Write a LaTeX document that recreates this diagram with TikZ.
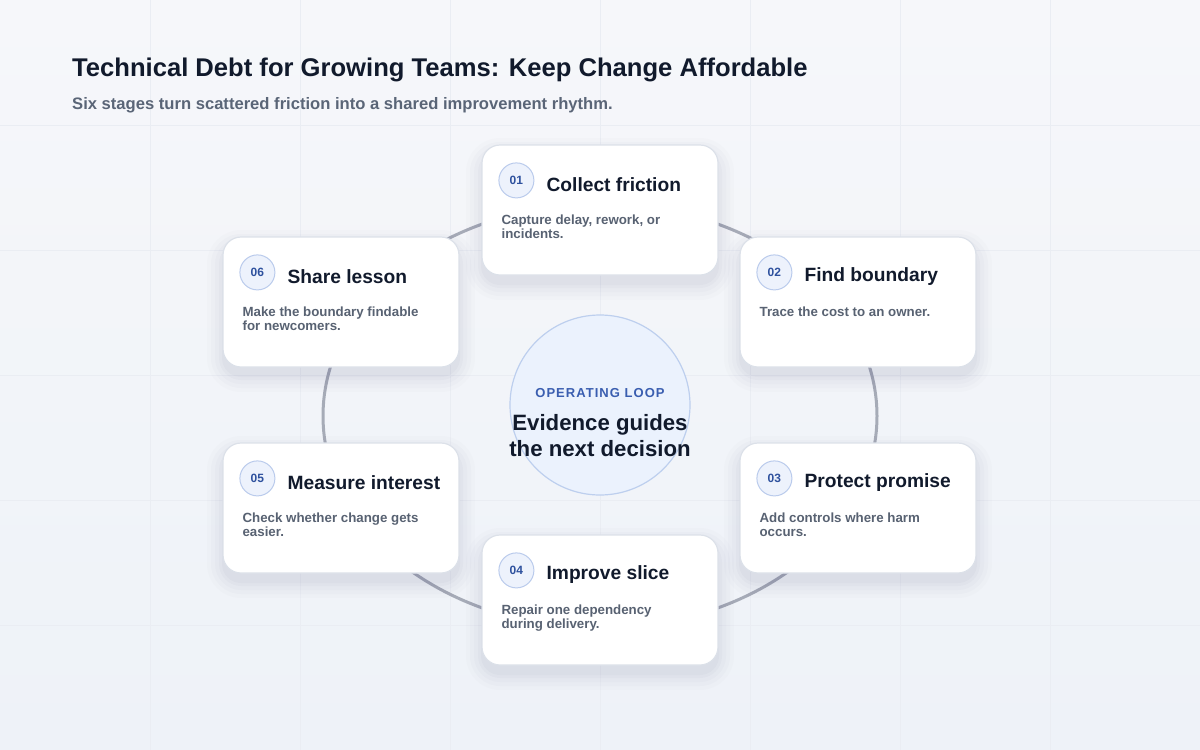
\documentclass[tikz,border=0pt]{standalone}
\usepackage{fontspec}
\setmainfont{Liberation Sans}
\usetikzlibrary{calc}
\definecolor{bgtop}{HTML}{F6F7FA}
\definecolor{bgbot}{HTML}{EEF2F8}
\definecolor{gridc}{HTML}{EAEDF3}
\definecolor{ringc}{HTML}{A6ABB7}
\definecolor{cardborder}{HTML}{DCE1E9}
\definecolor{numfill}{HTML}{EDF2FC}
\definecolor{numborder}{HTML}{BACBEC}
\definecolor{numtext}{HTML}{2E519E}
\definecolor{titlec}{HTML}{111A2C}
\definecolor{descc}{HTML}{586272}
\definecolor{subc}{HTML}{5A6577}
\definecolor{hubfill}{HTML}{EBF2FD}
\definecolor{hubborder}{HTML}{BDCFEE}
\definecolor{hubtext}{HTML}{3A5EB0}
\tikzset{
  cardbox/.style={draw=cardborder, line width=1.2pt, fill=white, rounded corners=18pt,
    minimum width=236pt, minimum height=130pt, inner sep=0pt},
  numbadge/.style={circle, draw=numborder, line width=1pt, fill=numfill, minimum size=35pt,
    inner sep=0pt, text=numtext, font=\fontsize{12}{14}\selectfont\bfseries},
  cardtitle/.style={anchor=west, inner sep=0pt, text=titlec, font=\fontsize{19.2}{22}\selectfont\bfseries},
  carddesc/.style={anchor=north west, inner sep=0pt, align=left, text=descc,
    font=\fontsize{13.3}{13.8}\selectfont\bfseries},
  ringline/.style={draw=ringc, line width=3pt},
}
\newcommand{\stagecard}[6]{%
  \foreach \k/\op in {16/0.012,12/0.014,8/0.016,4/0.018,1/0.02}{
    \fill[black!70!blue, opacity=\op, rounded corners=18pt+\k pt]
      ($(#2,#3)+(-118-\k,-65-\k+9)$) rectangle ($(#2,#3)+(118+\k,65+\k+9)$);
  }
  \node[cardbox] (#1) at (#2,#3) {};
  \node[numbadge] (#1num) at ($(#1.north west)+(35,36)$) {#4};
  \node[cardtitle] (#1title) at ($(#1.north west)+(65,40.5)$) {#5};
  \node[carddesc] (#1desc) at ($(#1.north west)+(20,70)$) {#6};
}
\begin{document}
\begin{tikzpicture}[x=1pt,y=-1pt]
  \useasboundingbox (0,0) rectangle (1200,750);
  \shade[top color=bgtop, bottom color=bgbot] (0,0) rectangle (1200,750);
  \foreach \gx in {150,300,...,1050} \draw[gridc, line width=0.8pt] (\gx,0) -- (\gx,750);
  \foreach \gy in {125,250,...,625} \draw[gridc, line width=0.8pt] (0,\gy) -- (1200,\gy);
  % title
  \node[anchor=west, inner sep=0pt, text=titlec, font=\fontsize{25.6}{30}\selectfont\bfseries] (title) at (72,70)
    {Technical Debt for Growing Teams: Keep Change Affordable};
  \node[anchor=west, inner sep=0pt, text=subc, font=\fontsize{16.6}{19}\selectfont\bfseries] (subtitle) at (72,105)
    {Six stages turn scattered friction into a shared improvement rhythm.};
  % ring
  \coordinate (ctr) at (600,416);
  \draw[ringline] (ctr) ellipse [x radius=277, y radius=212];
  % hub
  \node[circle, draw=hubborder, line width=1.2pt, fill=hubfill, minimum size=180pt, inner sep=0pt] (hub) at (600,405) {};
  \node[inner sep=0pt, text=hubtext, font=\fontsize{13}{15}\selectfont\bfseries\addfontfeatures{LetterSpace=8}] (hublabel) at (600,393) {OPERATING LOOP};
  \node[inner sep=0pt, align=center, text=titlec, font=\fontsize{22.2}{26.5}\selectfont\bfseries] (hubtext) at (600,435.5)
    {Evidence guides\\the next decision};
  % cards
  \stagecard{c1}{600}{210}{01}{Collect friction}{Capture delay, rework, or\\incidents.}
  \stagecard{c2}{858}{302}{02}{Find boundary}{Trace the cost to an owner.}
  \stagecard{c3}{858}{508}{03}{Protect promise}{Add controls where harm\\occurs.}
  \stagecard{c4}{600}{600}{04}{Improve slice}{Repair one dependency\\during delivery.}
  \stagecard{c5}{341}{508}{05}{Measure interest}{Check whether change gets\\easier.}
  \stagecard{c6}{341}{302}{06}{Share lesson}{Make the boundary findable\\for newcomers.}
\end{tikzpicture}
\end{document}
